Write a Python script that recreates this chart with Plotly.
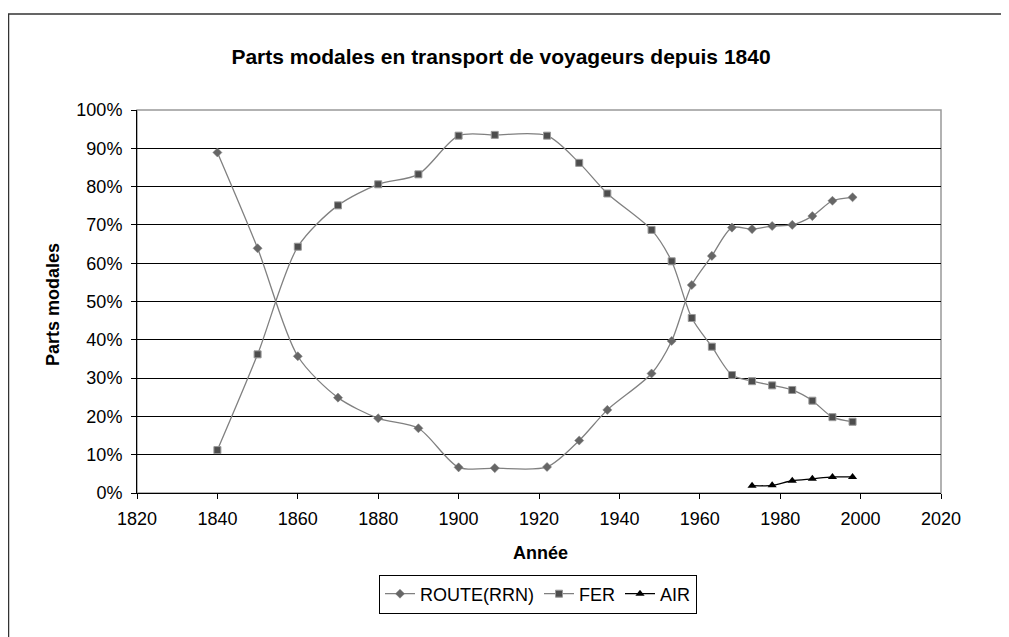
import plotly.graph_objects as go

years = [1840, 1850, 1860, 1870, 1880, 1890, 1900, 1909, 1922, 1930, 1937, 1948,
         1953, 1958, 1963, 1968, 1973, 1978, 1983, 1988, 1993, 1998]
route = [88.9, 63.9, 35.7, 24.9, 19.5, 16.9, 6.7, 6.5, 6.8, 13.7, 21.7, 31.2,
         39.7, 54.3, 61.9, 69.3, 68.9, 69.7, 70.0, 72.3, 76.3, 77.2]
fer = [11.2, 36.2, 64.3, 75.1, 80.6, 83.2, 93.3, 93.5, 93.3, 86.2, 78.2, 68.7,
       60.5, 45.7, 38.2, 30.8, 29.2, 28.1, 26.9, 24.1, 19.8, 18.6]
air_years = [1973, 1978, 1983, 1988, 1993, 1998]
air = [1.9, 2.0, 3.2, 3.7, 4.2, 4.2]

x_ticks = list(range(1820, 2021, 20))
y_ticks = list(range(0, 101, 10))
y_tick_labels = [f"{v}%" for v in y_ticks]

FONT = "Liberation Sans, Arial, sans-serif"

# page body has an 8px margin; figure laid out in its own coordinates
W, H = 1001, 629
L, R, T, B = 129, 933, 102, 485   # plot area in figure pixels
PW, PH = R - L, B - T


def px(xf):
    return (xf - L) / PW


def py(yf):
    return (B - yf) / PH


fig = go.Figure()
fig.add_trace(go.Scatter(
    x=years, y=route, name="ROUTE(RRN)", mode="lines+markers",
    line=dict(color="#808080", width=1.3, shape="spline", smoothing=0.8),
    marker=dict(symbol="diamond", size=7, color="#666666",
                line=dict(color="#808080", width=0.5)),
))
fig.add_trace(go.Scatter(
    x=years, y=fer, name="FER", mode="lines+markers",
    line=dict(color="#808080", width=1.3, shape="spline", smoothing=0.8),
    marker=dict(symbol="square", size=7, color="#4d4d4d",
                line=dict(color="#999999", width=1)),
))
fig.add_trace(go.Scatter(
    x=air_years, y=air, name="AIR", mode="lines+markers",
    line=dict(color="#000000", width=1.3, shape="spline", smoothing=0.8),
    marker=dict(symbol="triangle-up", size=8, color="#000000"),
))

fig.update_layout(
    width=W, height=H,
    paper_bgcolor="white", plot_bgcolor="white",
    margin=dict(l=L, r=W - R, t=T, b=H - B),
    font=dict(family=FONT, size=18, color="#000000"),
    title=dict(text="<b>Parts modales en transport de voyageurs depuis 1840</b>",
               x=493 / W, xref="container", xanchor="center",
               y=1 - 49 / H, yref="container", yanchor="middle",
               font=dict(family=FONT, size=21, color="#000000")),
    showlegend=True,
    legend=dict(orientation="h", x=px(530), xanchor="center", y=py(586), yanchor="middle",
                bordercolor="#000000", borderwidth=1, bgcolor="white",
                font=dict(family=FONT, size=18), itemwidth=30,
                tracegroupgap=0),
    xaxis=dict(range=[1820, 2020], tickmode="array", tickvals=x_ticks,
               ticks="outside", ticklen=5, tickcolor="#000000",
               showline=True, linecolor="#000000", linewidth=1,
               showgrid=False, zeroline=False, mirror=False,
               ticklabelstandoff=4,
               tickfont=dict(family=FONT, size=18)),
    yaxis=dict(range=[0, 100], tickmode="array", tickvals=y_ticks,
               ticktext=y_tick_labels,
               ticks="outside", ticklen=5, tickcolor="#000000",
               showline=True, linecolor="#000000", linewidth=1,
               showgrid=True, gridcolor="#000000", gridwidth=1,
               zeroline=False, ticklabelstandoff=5,
               tickfont=dict(family=FONT, size=18)),
    annotations=[
        dict(text="<b>Année</b>", x=px(532), xref="paper", y=py(545),
             yref="paper", showarrow=False, xanchor="center", yanchor="middle",
             font=dict(family=FONT, size=18)),
        dict(text="<b>Parts modales</b>", x=px(45), xref="paper", y=py(297),
             yref="paper", showarrow=False, textangle=-90,
             xanchor="center", yanchor="middle",
             font=dict(family=FONT, size=18)),
    ],
    shapes=[
        dict(type="rect", xref="paper", yref="paper", x0=0, x1=1, y0=0, y1=1,
             line=dict(color="#999999", width=1.5), fillcolor="rgba(0,0,0,0)",
             layer="below"),
        dict(type="rect", xref="paper", yref="paper",
             x0=px(0.5), x1=px(1010), y0=py(640), y1=py(6),
             line=dict(color="#333333", width=1.5), fillcolor="rgba(0,0,0,0)"),
    ],
)

fig.write_html("out.html")
